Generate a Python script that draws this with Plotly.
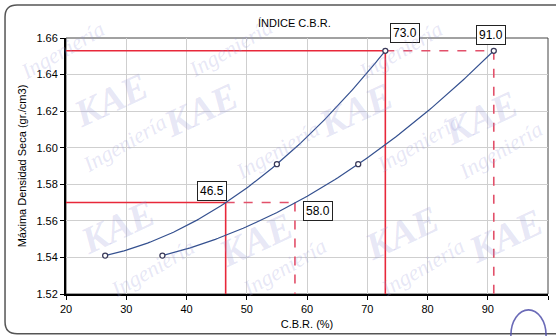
import numpy as np
import plotly.graph_objects as go

# Compaction points: CBR (%) vs. maximum dry density (gr./cm3)
cbr_a = [26.5, 55.0, 73.0]
dens_a = [1.541, 1.591, 1.653]
cbr_b = [36.0, 68.5, 91.0]
dens_b = [1.541, 1.591, 1.653]

# Design values: 100% and 95% of max dry density, with the CBR read at each
dens_max = 1.653
dens_95 = 1.570
cbr_100_a, cbr_100_b = 73.0, 91.0
cbr_95_a, cbr_95_b = 46.5, 58.0

x_ticks = [20, 30, 40, 50, 60, 70, 80, 90, 100]
y_ticks = [1.52, 1.54, 1.56, 1.58, 1.60, 1.62, 1.64, 1.66]

FONT = "Liberation Sans, Arial, sans-serif"
BLUE = "#34508f"
RED = "#e8283a"
RED_D = "#e2506a"
WM = "rgba(150,150,215,0.24)"

fig = go.Figure()


def seg(x, y, color, dash="solid", width=1.6):
    fig.add_trace(go.Scatter(x=x, y=y, mode="lines", hoverinfo="skip",
                             line=dict(color=color, width=width, dash=dash),
                             showlegend=False))


ymin = y_ticks[0]
xmin = x_ticks[0]
# reference lines at max density
seg([xmin, cbr_100_a], [dens_max, dens_max], RED)
seg([cbr_100_a, cbr_100_b], [dens_max, dens_max], RED_D, "dash")
seg([cbr_100_a, cbr_100_a], [dens_max, ymin], RED)
seg([cbr_100_b, cbr_100_b], [dens_max, ymin], RED_D, "dash")
# reference lines at 95% density
seg([xmin, cbr_95_a], [dens_95, dens_95], RED)
seg([cbr_95_a, cbr_95_b], [dens_95, dens_95], RED_D, "dash")
seg([cbr_95_a, cbr_95_a], [dens_95, ymin], RED)
seg([cbr_95_b, cbr_95_b], [dens_95, ymin], RED_D, "dash")

# 2nd-order polynomial trend line through each set of points
for xs, ys in [(cbr_a, dens_a), (cbr_b, dens_b)]:
    coef = np.polyfit(xs, ys, 2)
    xt = np.linspace(min(xs), max(xs), 120)
    fig.add_trace(go.Scatter(x=xt, y=np.polyval(coef, xt), mode="lines",
                             hoverinfo="skip", showlegend=False,
                             line=dict(color=BLUE, width=1.2)))
    fig.add_trace(go.Scatter(
        x=xs, y=ys, mode="markers", showlegend=False,
        marker=dict(symbol="circle", size=5, color="white",
                    line=dict(color="#3a3a5a", width=1.3))))

# value labels
labels = [
    (cbr_100_a, dens_max, f"{cbr_100_a:.1f}", 20, 18),
    (cbr_100_b, dens_max, f"{cbr_100_b:.1f}", -3, 16),
    (cbr_95_a, dens_95, f"{cbr_95_a:.1f}", -14, 12),
    (cbr_95_b, dens_95, f"{cbr_95_b:.1f}", 23, -8),
]
for x, y, t, dx, dy in labels:
    fig.add_annotation(x=x, y=y, text=t, showarrow=False, xshift=dx, yshift=dy,
                       font=dict(family=FONT, size=12, color="black"),
                       bgcolor="white", bordercolor="#222", borderwidth=1,
                       borderpad=2)

# outer chart frame with rounded corners
x0, x1 = -0.1265, 1.05
y0, y1 = -0.155, 1.129
rx, ry = 0.025, 0.047
path = (f"M {x0+rx},{y1} L {x1},{y1} M {x1},{y0} L {x0+rx},{y0} "
        f"Q {x0},{y0} {x0},{y0+ry} L {x0},{y1-ry} Q {x0},{y1} {x0+rx},{y1}")
fig.add_shape(type="path", path=path, xref="paper", yref="paper",
              line=dict(color="#555", width=1.5), layer="below")

fig.add_annotation(x=0.475, y=1.058, xref="paper", yref="paper",
                   text="ÍNDICE C.B.R.", showarrow=False, yanchor="middle",
                   font=dict(family=FONT, size=11, color="black"))

# company watermark, tiled diagonally (pixel positions in the 556x336 canvas)
kae_pos = [(110, 100), (200, 110), (355, 110), (480, 118), (117, 227),
           (255, 240), (401, 233), (505, 236)]
ing_pos = [(62, 50), (230, 48), (400, 50), (124, 143), (277, 150),
           (418, 143), (500, 150), (152, 268), (284, 267), (422, 267)]


def to_paper(px, py):
    return (px - 66) / 482, (294 - py) / 256


for px, py in kae_pos:
    xp, yp = to_paper(px, py)
    fig.add_annotation(x=xp, y=yp, xref="paper", yref="paper",
                       xanchor="center", yanchor="middle",
                       text="<b><i>KAE</i></b>", showarrow=False, textangle=-25,
                       font=dict(family="Liberation Serif, serif", size=38, color=WM))
for px, py in ing_pos:
    xp, yp = to_paper(px, py)
    fig.add_annotation(x=xp, y=yp, xref="paper", yref="paper",
                       xanchor="center", yanchor="middle",
                       text="<i>Ingeniería</i>", showarrow=False, textangle=-30,
                       font=dict(family="Liberation Serif, serif", size=22, color=WM))

# logo outline in the lower-right corner
fig.add_shape(type="circle", xref="paper", yref="paper",
              x0=0.923, x1=0.996, y0=-0.26, y1=-0.062,
              line=dict(color="rgba(80,80,170,0.85)", width=1.6))

axis_common = dict(
    showgrid=True, gridcolor="#cfcfcf", gridwidth=1,
    ticks="outside", ticklen=4, tickcolor="black",
    showline=True, linecolor="black", linewidth=2,
    tickfont=dict(family=FONT, size=11, color="black"),
    zeroline=False, mirror=False,
)

fig.update_layout(
    width=556, height=336,
    margin=dict(l=66, r=8, t=38, b=42),
    paper_bgcolor="white", plot_bgcolor="white",
    xaxis=dict(range=[x_ticks[0], x_ticks[-1]], tickvals=x_ticks,
               title=dict(text="C.B.R. (%)", standoff=6,
                          font=dict(family=FONT, size=11, color="black")),
               **axis_common),
    yaxis=dict(range=[y_ticks[0], y_ticks[-1]], tickvals=y_ticks,
               tickformat=".2f",
               title=dict(text="Máxima Densidad Seca (gr./cm3)", standoff=8,
                          font=dict(family=FONT, size=11, color="black")),
               **axis_common),
)

# top/right border of the plot area
fig.add_shape(type="rect", xref="paper", yref="paper", x0=0, y0=0, x1=1, y1=1,
              line=dict(color="#444", width=1), layer="below")

fig.write_html("out.html")
